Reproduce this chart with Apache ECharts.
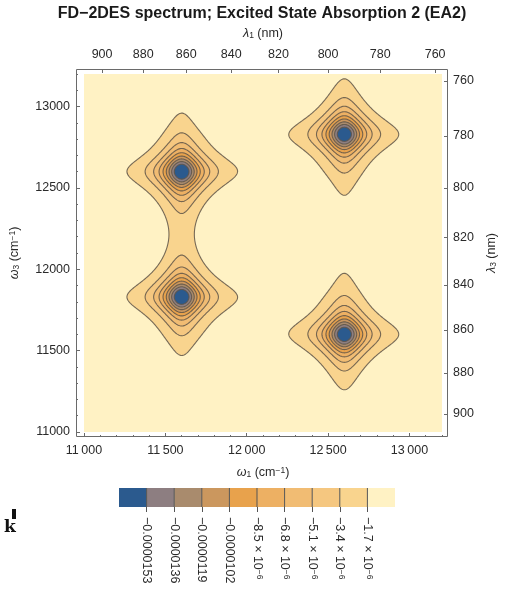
<!DOCTYPE html>
<html>
<head>
<meta charset="utf-8">
<script src="https://cdn.jsdelivr.net/npm/echarts@6/dist/echarts.min.js"></script>
<style>
  html, body { margin: 0; padding: 0; background: #fff; }
  #chart { width: 512px; height: 590px; }
</style>
</head>
<body>
<div id="chart"></div>
<script>
// EA2 peaks: positions (cm^-1), amplitudes and Lorentzian half widths (cm^-1)
const peakOmega1 = [11600, 11600, 12600, 12600];
const peakOmega3 = [12600, 11830, 12830, 11600];
const peakAmplitude = [-1.76e-5, -1.76e-5, -1.76e-5, -1.76e-5];
const peakWidth = [108, 108, 108, 108];

// contour levels (band boundaries), most negative first
const contourLevels = [-1.53e-5, -1.36e-5, -1.19e-5, -1.02e-5, -8.5e-6, -6.8e-6, -5.1e-6, -3.4e-6, -1.7e-6];
const levelLabels = [
  '−0.0000153', '−0.0000136', '−0.0000119', '−0.0000102',
  '−8.5 × 10{sup|−6}', '−6.8 × 10{sup|−6}', '−5.1 × 10{sup|−6}', '−3.4 × 10{sup|−6}', '−1.7 × 10{sup|−6}'
];
// band colours, from the deepest band up to the background band
const bandColors = ['#2b5a8e', '#8d7e81', '#a98b6d', '#cb975e', '#e8a24c', '#edb063', '#f1bc73', '#f5c780', '#f9d48e', '#fff2c4'];

// axis ranges and ticks
const omegaRange = [11000, 13200];
const omega1Ticks = [11000, 11500, 12000, 12500, 13000];
const omega3Ticks = [11000, 11500, 12000, 12500, 13000];
const lambda1Ticks = [900, 880, 860, 840, 820, 800, 780, 760];
const lambda3Ticks = [760, 780, 800, 820, 840, 860, 880, 900];
const minorStep = 100;

const FONT = '"Liberation Sans", Arial, sans-serif';
const INK = '#2a2a2a';
const FRAME = '#6a6a6a';
const LINE = 'rgba(95,85,72,0.85)';

// ---- signal on a regular grid ----
const STEP = 5;
const n = Math.round((omegaRange[1] - omegaRange[0]) / STEP) + 1;
const gx = [];
for (let i = 0; i < n; i++) gx.push(omegaRange[0] + i * STEP);

function signal(w1, w3) {
  let s = 0;
  for (let k = 0; k < peakOmega1.length; k++) {
    const a = (w1 - peakOmega1[k]) / peakWidth[k];
    const b = (w3 - peakOmega3[k]) / peakWidth[k];
    s += peakAmplitude[k] / ((1 + a * a) * (1 + b * b));
  }
  return s;
}
const field = new Float64Array(n * n);
for (let j = 0; j < n; j++) for (let i = 0; i < n; i++) field[j * n + i] = signal(gx[i], gx[j]);

// ---- marching squares: closed loops of f = level ----
function contourLoops(level) {
  const N = n * n;
  const adj = new Map();
  const link = (a, b) => {
    if (!adj.has(a)) adj.set(a, []);
    if (!adj.has(b)) adj.set(b, []);
    adj.get(a).push(b); adj.get(b).push(a);
  };
  const pointOf = id => {
    if (id < N) {
      const j = Math.floor(id / n), i = id % n;
      const a = field[j * n + i] - level, b = field[j * n + i + 1] - level;
      const t = a / (a - b);
      return [gx[i] + t * STEP, gx[j]];
    }
    const k = id - N, j = Math.floor(k / n), i = k % n;
    const a = field[j * n + i] - level, b = field[(j + 1) * n + i] - level;
    const t = a / (a - b);
    return [gx[i], gx[j] + t * STEP];
  };
  for (let j = 0; j < n - 1; j++) {
    for (let i = 0; i < n - 1; i++) {
      const bl = field[j * n + i] < level, br = field[j * n + i + 1] < level;
      const tr = field[(j + 1) * n + i + 1] < level, tl = field[(j + 1) * n + i] < level;
      if (bl === br && br === tr && tr === tl) continue;
      const eB = j * n + i, eT = (j + 1) * n + i, eL = N + j * n + i, eR = N + j * n + i + 1;
      const cross = [];
      if (bl !== br) cross.push(eB);
      if (br !== tr) cross.push(eR);
      if (tl !== tr) cross.push(eT);
      if (bl !== tl) cross.push(eL);
      if (cross.length === 2) link(cross[0], cross[1]);
      else if (cross.length === 4) {
        const c = (field[j * n + i] + field[j * n + i + 1] + field[(j + 1) * n + i + 1] + field[(j + 1) * n + i]) / 4 < level;
        if (c === bl) { link(eB, eR); link(eT, eL); } else { link(eB, eL); link(eR, eT); }
      }
    }
  }
  const loops = [];
  const seen = new Set();
  for (const start of adj.keys()) {
    if (seen.has(start)) continue;
    const loop = [];
    let prev = -1, cur = start;
    while (true) {
      seen.add(cur);
      loop.push(pointOf(cur));
      const nb = adj.get(cur);
      const next = nb[0] !== prev ? nb[0] : nb[1];
      if (next === undefined || next === start || seen.has(next)) break;
      prev = cur; cur = next;
    }
    if (loop.length > 2) loops.push(loop);
  }
  return loops;
}

// filled contour polygons, outer (weakest) level first
const polys = [];
for (let k = contourLevels.length - 1; k >= 0; k--) {
  contourLoops(contourLevels[k]).forEach(pts => polys.push({ band: k, pts }));
}

const minorOmega = [];
for (let v = omegaRange[0]; v <= omegaRange[1]; v += minorStep) if (v % 500 !== 0) minorOmega.push(v);

const fmtOmegaBottom = v => String(v).replace(/^(\d\d)(\d\d\d)$/, '$1\u2009$2');

const chart = echarts.init(document.getElementById('chart'), null, { renderer: 'canvas' });

const tickStyle = { lineStyle: { color: FRAME, width: 1 } };
const labelBase = { color: INK, fontFamily: FONT, fontSize: 12.5 };
const nameBase = { color: INK, fontFamily: FONT, fontSize: 12.5 };
const nameRich = {
  i: { fontStyle: 'italic', fontFamily: FONT, fontSize: 12.5, color: INK },
  sub: { fontFamily: FONT, fontSize: 8.5, color: INK, verticalAlign: 'bottom' },
  sup: { fontFamily: FONT, fontSize: 8.5, color: INK, verticalAlign: 'top' }
};

chart.setOption({
  animation: false,
  textStyle: { fontFamily: FONT },
  grid: [
    { left: 84, top: 74, width: 358, height: 358, show: true, backgroundColor: bandColors[9], borderWidth: 0 },
    { left: 119, top: 488, width: 276, height: 19 }
  ],
  xAxis: [
    {
      gridIndex: 0, type: 'value', position: 'bottom', offset: 5,
      min: omegaRange[0], max: omegaRange[1],
      axisLine: { show: false },
      axisTick: Object.assign({ inside: true, length: 4, customValues: omega1Ticks }, tickStyle),
      axisLabel: Object.assign({ customValues: omega1Ticks, margin: 7, formatter: fmtOmegaBottom }, labelBase),
      splitLine: { show: false },
      name: '{i|ω}{sub|1} (cm{sup|−1})', nameLocation: 'middle', nameGap: 29,
      nameTextStyle: Object.assign({ rich: nameRich }, nameBase)
    },
    {
      gridIndex: 0, type: 'value', position: 'bottom', offset: 5,
      min: omegaRange[0], max: omegaRange[1],
      axisLine: { show: false },
      axisTick: Object.assign({ inside: true, length: 2, customValues: minorOmega }, tickStyle),
      axisLabel: { show: false }, splitLine: { show: false }
    },
    {
      gridIndex: 0, type: 'value', position: 'top', offset: 5,
      min: omegaRange[0], max: omegaRange[1],
      axisLine: { show: false },
      axisTick: Object.assign({ inside: true, length: 4, customValues: lambda1Ticks.map(l => 1e7 / l) }, tickStyle),
      axisLabel: Object.assign({ customValues: lambda1Ticks.map(l => 1e7 / l), margin: 8, formatter: v => String(Math.round(1e7 / v)) }, labelBase),
      splitLine: { show: false },
      name: '{i|λ}{sub|1} (nm)', nameLocation: 'middle', nameGap: 29,
      nameTextStyle: Object.assign({ rich: nameRich }, nameBase)
    },
    {
      gridIndex: 1, type: 'value', min: 0, max: bandColors.length,
      axisLine: { show: false },
      axisTick: { length: 5, customValues: contourLevels.map((_, i) => i + 1), lineStyle: { color: '#555', width: 1 } },
      axisLabel: Object.assign({
        customValues: contourLevels.map((_, i) => i + 1), rotate: -90, margin: 10,
        formatter: v => levelLabels[Math.round(v) - 1],
        rich: { sup: { fontFamily: FONT, fontSize: 8.5, color: INK, verticalAlign: 'top' } }
      }, labelBase),
      splitLine: { show: false }
    }
  ],
  yAxis: [
    {
      gridIndex: 0, type: 'value', position: 'left', offset: 8,
      min: omegaRange[0], max: omegaRange[1],
      axisLine: { show: false },
      axisTick: Object.assign({ inside: true, length: 4, customValues: omega3Ticks }, tickStyle),
      axisLabel: Object.assign({ customValues: omega3Ticks, margin: 6, formatter: v => String(v) }, labelBase),
      splitLine: { show: false },
      name: '{i|ω}{sub|3} (cm{sup|−1})', nameLocation: 'middle', nameGap: 55,
      nameTextStyle: Object.assign({ rich: nameRich }, nameBase)
    },
    {
      gridIndex: 0, type: 'value', position: 'left', offset: 8,
      min: omegaRange[0], max: omegaRange[1],
      axisLine: { show: false },
      axisTick: Object.assign({ inside: true, length: 2, customValues: minorOmega }, tickStyle),
      axisLabel: { show: false }, splitLine: { show: false }
    },
    {
      gridIndex: 0, type: 'value', position: 'right', offset: 6,
      min: omegaRange[0], max: omegaRange[1],
      axisLine: { show: false },
      axisTick: Object.assign({ inside: true, length: 4, customValues: lambda3Ticks.map(l => 1e7 / l) }, tickStyle),
      axisLabel: Object.assign({ customValues: lambda3Ticks.map(l => 1e7 / l), margin: 5, formatter: v => String(Math.round(1e7 / v)) }, labelBase),
      splitLine: { show: false },
      name: '{i|λ}{sub|3} (nm)', nameLocation: 'middle', nameGap: 32,
      nameTextStyle: Object.assign({ rich: nameRich }, nameBase)
    },
    { gridIndex: 1, type: 'value', min: 0, max: 1, show: false }
  ],
  series: [
    {
      type: 'custom', xAxisIndex: 0, yAxisIndex: 0, clip: true, silent: true,
      data: polys.map((p, idx) => [p.pts[0][0], p.pts[0][1], idx]),
      renderItem: (params, api) => {
        const p = polys[params.dataIndex];
        return {
          type: 'polygon',
          shape: { points: p.pts.map(pt => api.coord(pt)) },
          style: { fill: bandColors[p.band], stroke: LINE, lineWidth: 1.1 }
        };
      }
    },
    {
      type: 'custom', xAxisIndex: 3, yAxisIndex: 3, silent: true,
      data: bandColors.map((c, i) => [i, 0]),
      renderItem: (params, api) => {
        const i = api.value(0);
        const a = api.coord([i, 1]);
        const b = api.coord([i + 1, 0]);
        const children = [{
          type: 'rect',
          shape: { x: a[0], y: a[1], width: b[0] - a[0], height: b[1] - a[1] },
          style: { fill: bandColors[i] }
        }];
        if (i > 0) children.push({
          type: 'line',
          shape: { x1: a[0], y1: a[1], x2: a[0], y2: b[1] },
          style: { stroke: '#555', lineWidth: 1 }
        });
        return { type: 'group', children };
      }
    }
  ],
  graphic: [
    {
      type: 'rect', silent: true, z: 10,
      shape: { x: 76.5, y: 69.5, width: 371, height: 367 },
      style: { fill: 'none', stroke: FRAME, lineWidth: 1 }
    },
    {
      type: 'text', silent: true,
      style: {
        x: 262, y: 14, text: 'FD−2DES spectrum; Excited State Absorption 2 (EA2)',
        textAlign: 'center', textVerticalAlign: 'middle', align: 'center', verticalAlign: 'middle',
        font: 'bold 16px "Liberation Sans", Arial, sans-serif', fill: '#1a1a1a'
      }
    },
    {
      type: 'rect', silent: true,
      shape: { x: 12, y: 509, width: 4, height: 10 },
      style: { fill: '#111' }
    },
    {
      type: 'text', silent: true,
      style: {
        x: 4, y: 528, text: 'k', textVerticalAlign: 'middle', verticalAlign: 'middle',
        font: 'bold 17px "DejaVu Serif", serif', fill: '#111'
      }
    }
  ]
});
</script>
</body>
</html>
